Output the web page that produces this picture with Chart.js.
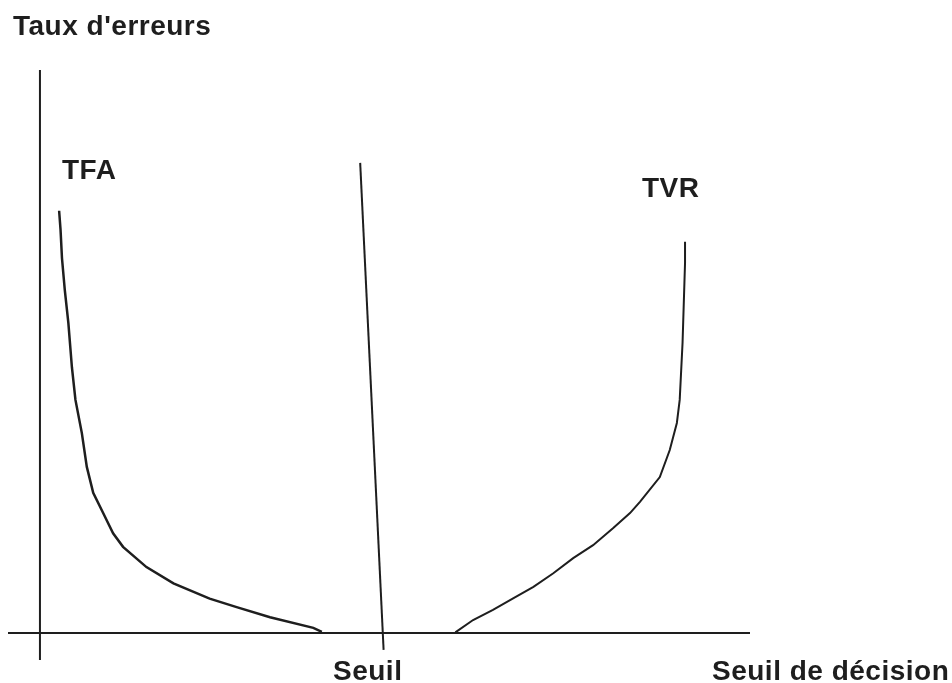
<!DOCTYPE html>
<html>
<head>
<meta charset="utf-8">
<script src="https://cdn.jsdelivr.net/npm/chart.js@4/dist/chart.umd.min.js"></script>
<style>
  html, body { margin: 0; padding: 0; background: #fff; }
  #wrap { width: 952px; height: 683px; position: relative; }
</style>
</head>
<body>
<div id="wrap"><canvas id="errChart"></canvas></div>
<script>
// Seuil de décision (x) / Taux d'erreurs (y), both in arbitrary 0-100 units
const tfaX = [2.7, 2.9, 3.1, 3.5, 4.0, 4.5, 5.0, 5.9, 6.6, 7.5, 8.9, 10.3, 11.7, 15.0, 18.8, 23.9, 27.7, 32.4, 38.5, 39.7];
const tfaY = [75.0, 71.6, 66.6, 60.9, 55.1, 47.2, 41.4, 35.5, 29.5, 24.9, 21.3, 17.7, 15.3, 11.7, 8.8, 6.1, 4.6, 2.8, 0.9, 0.2];

const tvrX = [58.5, 61.0, 63.8, 66.7, 69.5, 72.3, 75.1, 77.9, 80.7, 83.1, 84.5, 87.3, 88.7, 89.7, 90.1, 90.5, 90.85, 90.85];
const tvrY = [0.1, 2.3, 4.1, 6.2, 8.2, 10.6, 13.3, 15.6, 18.6, 21.3, 23.3, 27.7, 32.5, 37.3, 41.4, 51.5, 65.7, 69.5];

const seuilX = [45.1, 48.4];
const seuilY = [83.5, -3.0];

// axis lines of the sketch
const axisHX = [-4.5, 100];
const axisHY = [0, 0];
const axisVX = [0, 0];
const axisVY = [100, -4.8];

const toPoints = (xs, ys) => xs.map((x, i) => ({ x: x, y: ys[i] }));

const ink = "#1e1e1e";

// free text of the sketch, drawn on the canvas
const textPlugin = {
  id: "sketchText",
  afterDraw(chart) {
    const ctx = chart.ctx;
    ctx.save();
    ctx.fillStyle = ink;
    ctx.font = "bold 28px 'Liberation Sans', Arial, sans-serif";
    ctx.letterSpacing = "0.5px";
    ctx.textBaseline = "alphabetic";
    ctx.fillText("Taux d'erreurs", 13, 35);
    ctx.fillText("TFA", 62, 179);
    ctx.fillText("TVR", 642, 197);
    ctx.fillText("Seuil", 333, 680);
    ctx.fillText("Seuil de décision", 712, 680);
    ctx.restore();
  },
};

const lineStyle = {
  showLine: true,
  borderColor: ink,
  borderWidth: 2,
  pointRadius: 0,
  tension: 0,
  fill: false,
};

new Chart(document.getElementById("errChart").getContext("2d"), {
  type: "scatter",
  data: {
    datasets: [
      { label: "axeX", data: toPoints(axisHX, axisHY), ...lineStyle },
      { label: "axeY", data: toPoints(axisVX, axisVY), ...lineStyle },
      { label: "TFA", data: toPoints(tfaX, tfaY), ...lineStyle, borderWidth: 2.5 },
      { label: "Seuil", data: toPoints(seuilX, seuilY), ...lineStyle },
      { label: "TVR", data: toPoints(tvrX, tvrY), ...lineStyle },
    ],
  },
  options: {
    responsive: true,
    maintainAspectRatio: false,
    animation: false,
    layout: { padding: { left: 8, right: 202, top: 70, bottom: 23 } },
    plugins: {
      legend: { display: false },
      tooltip: { enabled: false },
    },
    scales: {
      x: { type: "linear", min: -4.5, max: 100, display: false },
      y: { type: "linear", min: -4.8, max: 100, display: false },
    },
  },
  plugins: [textPlugin],
});
</script>
</body>
</html>
